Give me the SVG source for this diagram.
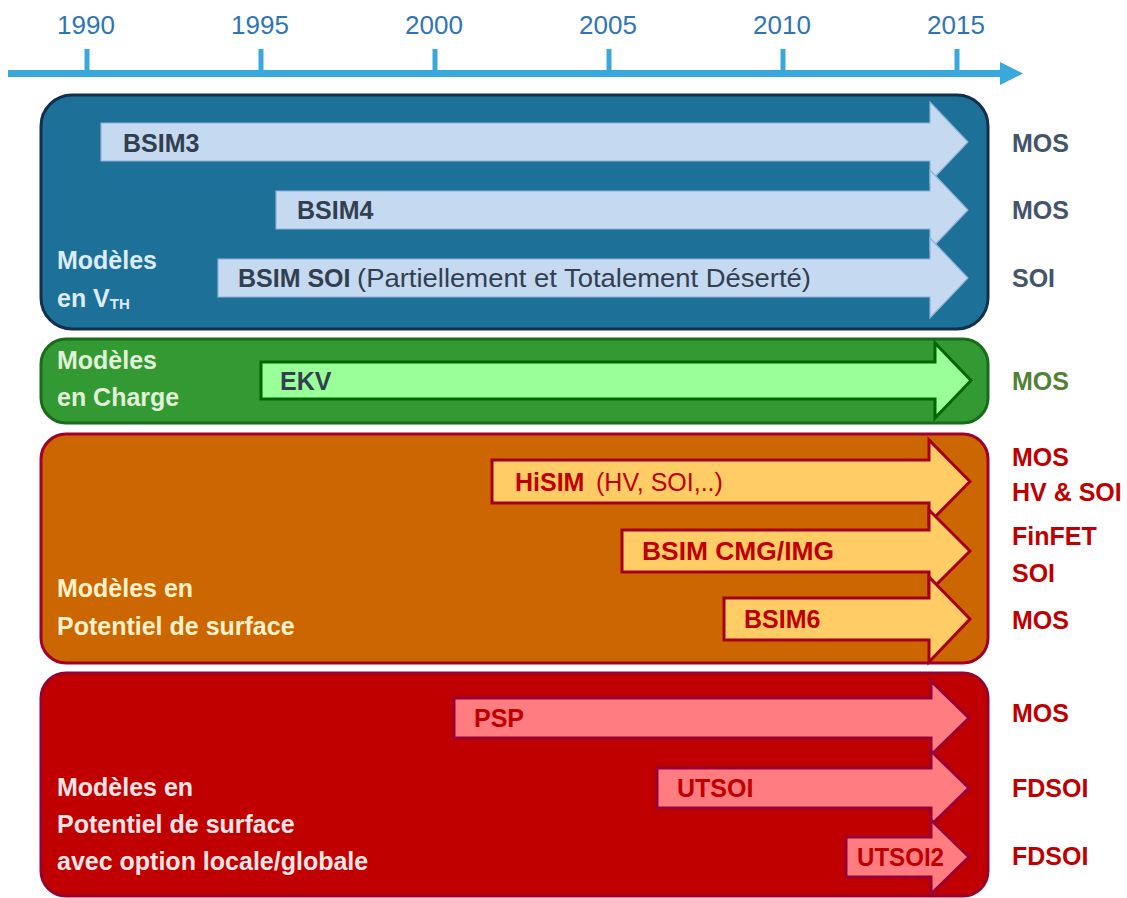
<svg xmlns="http://www.w3.org/2000/svg" width="1127" height="898" viewBox="0 0 1127 898">
<style>
text{font-family:"Liberation Sans",Arial,sans-serif;font-size:25px;font-weight:bold}
.yr{font-weight:normal;font-size:26px;fill:#2E75B6;text-anchor:middle}
.reg{font-weight:normal}
.bl{fill:#323F4F}
.blr{fill:#44546A}
.bll{fill:#DDEBF7}
.gr{fill:#548235}
.grl{fill:#E2F0D9}
.rd{fill:#C00000}
.orl{fill:#FFF2CC}
.rdl{fill:#FFE5E5}
.barB{fill:#C5D9F1;stroke:#8FB2D8;stroke-width:1.2}
.barG{fill:#99FF99;stroke:#006600;stroke-width:3}
.barO{fill:#FFCC66;stroke:#A50021;stroke-width:3}
.barR{fill:#FF7C80;stroke:#990033;stroke-width:3}
</style>
<rect width="1127" height="898" fill="#FFFFFF"/>

<g id="axis">
<line x1="8" y1="73.5" x2="1002" y2="73.5" stroke="#38A8DD" stroke-width="7"/>
<polygon points="1000,62 1023,73.5 1000,85" fill="#38A8DD"/>
<g stroke="#38A8DD" stroke-width="5">
<line x1="87" y1="49" x2="87" y2="72"/>
<line x1="261" y1="49" x2="261" y2="72"/>
<line x1="435" y1="49" x2="435" y2="72"/>
<line x1="609" y1="49" x2="609" y2="72"/>
<line x1="783" y1="49" x2="783" y2="72"/>
<line x1="957" y1="49" x2="957" y2="72"/>
</g>
<text class="yr" x="86" y="34">1990</text>
<text class="yr" x="260" y="34">1995</text>
<text class="yr" x="434" y="34">2000</text>
<text class="yr" x="608" y="34">2005</text>
<text class="yr" x="782" y="34">2010</text>
<text class="yr" x="956" y="34">2015</text>
</g>

<g id="box-vth">
<rect x="41" y="95" width="947" height="234" rx="31" fill="#1D7097" stroke="#12304E" stroke-width="3"/>
<text class="bll" x="57" y="269">Modèles</text>
<text class="bll" x="57" y="307">en V<tspan font-size="15" dy="2">TH</tspan></text>
</g>
<g id="bsim3">
<polygon class="barB" points="101,123 930,123 930,102 968,142 930,182 930,161 101,161"/>
<text class="bl" x="123" y="152">BSIM3</text>
</g>
<g id="bsim4">
<polygon class="barB" points="276,191 930,191 930,170 968,210 930,250 930,229 276,229"/>
<text class="bl" x="297" y="219">BSIM4</text>
</g>
<g id="bsimsoi">
<polygon class="barB" points="218,259 930,259 930,238 968,278 930,318 930,297 218,297"/>
<text class="bl" x="238" y="287">BSIM SOI</text>
<text class="bl reg" x="357" y="287" textLength="454" lengthAdjust="spacingAndGlyphs">(Partiellement et Totalement Déserté)</text>
</g>
<g id="lbl-vth">
<text class="blr" x="1012" y="152">MOS</text>
<text class="blr" x="1012" y="219">MOS</text>
<text class="blr" x="1012" y="287">SOI</text>
</g>

<g id="box-charge">
<rect x="41" y="339" width="947" height="84" rx="25" fill="#339933" stroke="#1A6B1A" stroke-width="3"/>
<text class="grl" x="57" y="369">Modèles</text>
<text class="grl" x="57" y="406">en Charge</text>
</g>
<g id="ekv">
<polygon class="barG" points="261,362 935,362 935,343 971,380.5 935,418 935,399 261,399"/>
<text class="bl" x="280" y="390">EKV</text>
</g>
<g id="lbl-charge">
<text class="gr" x="1012" y="390">MOS</text>
</g>

<g id="box-surface">
<rect x="41" y="434" width="947" height="229" rx="25" fill="#CC6600" stroke="#A0002A" stroke-width="3"/>
<text class="orl" x="57" y="597">Modèles en</text>
<text class="orl" x="57" y="635">Potentiel de surface</text>
</g>
<g id="hisim">
<polygon class="barO" points="492,460 929,460 929,440 970,481.5 929,523 929,503 492,503"/>
<text class="rd" x="515" y="491">HiSIM</text>
<text class="rd reg" x="596" y="491">(HV, SOI,..)</text>
</g>
<g id="bsimcmg">
<polygon class="barO" points="622,530 929,530 929,510 970,551 929,592 929,572 622,572"/>
<text class="rd" x="642" y="560" textLength="192" lengthAdjust="spacingAndGlyphs">BSIM CMG/IMG</text>
</g>
<g id="bsim6">
<polygon class="barO" points="724,598 929,598 929,577 970,619 929,662 929,640 724,640"/>
<text class="rd" x="744" y="628">BSIM6</text>
</g>
<g id="lbl-surface">
<text class="rd" x="1012" y="466">MOS</text>
<text class="rd" x="1012" y="501">HV &amp; SOI</text>
<text class="rd" x="1012" y="545">FinFET</text>
<text class="rd" x="1012" y="582">SOI</text>
<text class="rd" x="1012" y="629">MOS</text>
</g>

<g id="box-global">
<rect x="41" y="673" width="947" height="223" rx="25" fill="#C00000" stroke="#99002E" stroke-width="3"/>
<text class="rdl" x="57" y="796">Modèles en</text>
<text class="rdl" x="57" y="833">Potentiel de surface</text>
<text class="rdl" x="57" y="870">avec option locale/globale</text>
</g>
<g id="psp">
<polygon class="barR" points="454,698 931,698 931,681 969,718 931,755 931,738 454,738"/>
<text class="rd" x="474" y="727">PSP</text>
</g>
<g id="utsoi">
<polygon class="barR" points="657,768 931,768 931,751 969,788 931,825 931,808 657,808"/>
<text class="rd" x="677" y="797">UTSOI</text>
</g>
<g id="utsoi2">
<polygon class="barR" points="846,837 931,837 931,820 969,857 931,894 931,877 846,877"/>
<text class="rd" x="857" y="866" textLength="87" lengthAdjust="spacingAndGlyphs">UTSOI2</text>
</g>
<g id="lbl-global">
<text class="rd" x="1012" y="722">MOS</text>
<text class="rd" x="1012" y="797">FDSOI</text>
<text class="rd" x="1012" y="865">FDSOI</text>
</g>
</svg>
